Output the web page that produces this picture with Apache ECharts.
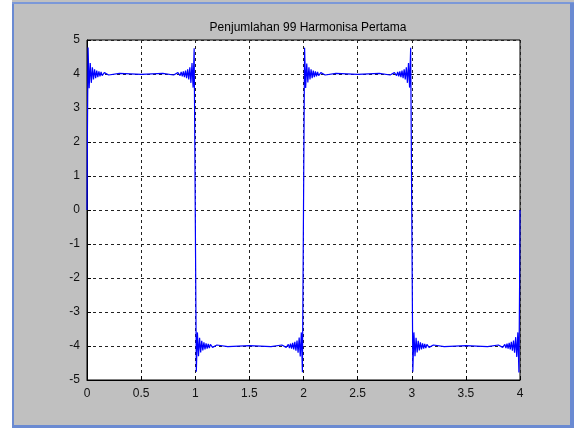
<!DOCTYPE html>
<html>
<head>
<meta charset="utf-8">
<script src="https://cdn.jsdelivr.net/npm/echarts@6/dist/echarts.min.js"></script>
<style>
  html, body { margin: 0; padding: 0; background: #fff; }
  #chart { width: 577px; height: 428px; }
</style>
</head>
<body>
<div id="chart"></div>
<script>
// tick labels
const xTicks = ['0', '0.5', '1', '1.5', '2', '2.5', '3', '3.5', '4']
const yTicks = ['-5', '-4', '-3', '-2', '-1', '0', '1', '2', '3', '4', '5']

// points, one half-period at a time [x, y]
const seg1 = [
    [0, 0], [0.004, 2.3], [0.01, 4.78], [0.02, 3.58], [0.03, 4.32], [0.04, 3.74], [0.05, 4.2],
    [0.06, 3.84], [0.07, 4.14], [0.08, 3.88], [0.09, 4.1], [0.1, 3.91], [0.11, 4.08],
    [0.12, 3.93], [0.13, 4.06], [0.14, 3.95], [0.16, 4.04], [0.2, 3.97], [0.3, 4.02],
    [0.5, 3.99], [0.7, 4.02], [0.8, 3.97], [0.84, 4.04], [0.86, 3.95], [0.87, 4.06],
    [0.88, 3.93], [0.89, 4.08], [0.9, 3.91], [0.91, 4.1], [0.92, 3.88], [0.93, 4.14],
    [0.94, 3.84], [0.95, 4.2], [0.96, 3.74], [0.97, 4.32], [0.98, 3.6], [0.99, 4.76], [1, 0]
]
const seg2 = [
    [1.01, -4.76], [1.02, -3.6], [1.03, -4.3], [1.04, -3.76], [1.05, -4.19], [1.06, -3.85],
    [1.07, -4.13], [1.08, -3.89], [1.09, -4.1], [1.1, -3.92], [1.11, -4.08], [1.12, -3.94],
    [1.13, -4.06], [1.14, -3.95], [1.16, -4.04], [1.2, -3.97], [1.3, -4.02], [1.5, -3.99],
    [1.7, -4.02], [1.8, -3.97], [1.84, -4.04], [1.86, -3.95], [1.87, -4.06], [1.88, -3.93],
    [1.89, -4.08], [1.9, -3.91], [1.91, -4.1], [1.92, -3.88], [1.93, -4.14], [1.94, -3.84],
    [1.95, -4.2], [1.96, -3.75], [1.97, -4.31], [1.98, -3.6], [1.99, -4.77], [2, 0]
]
const seg3 = [
    [2.01, 4.77], [2.02, 3.59], [2.03, 4.31], [2.04, 3.75], [2.05, 4.2], [2.06, 3.84],
    [2.07, 4.14], [2.08, 3.88], [2.09, 4.1], [2.1, 3.91], [2.11, 4.08], [2.12, 3.93],
    [2.13, 4.06], [2.14, 3.95], [2.16, 4.04], [2.2, 3.97], [2.3, 4.02], [2.5, 3.99],
    [2.7, 4.02], [2.8, 3.97], [2.84, 4.04], [2.86, 3.95], [2.87, 4.06], [2.88, 3.93],
    [2.89, 4.08], [2.9, 3.91], [2.91, 4.1], [2.92, 3.88], [2.93, 4.14], [2.94, 3.84],
    [2.95, 4.2], [2.96, 3.74], [2.97, 4.32], [2.98, 3.6], [2.99, 4.77], [3, 0]
]
const seg4 = [
    [3.01, -4.76], [3.02, -3.6], [3.03, -4.3], [3.04, -3.76], [3.05, -4.19], [3.06, -3.85],
    [3.07, -4.13], [3.08, -3.89], [3.09, -4.1], [3.1, -3.92], [3.11, -4.08], [3.12, -3.94],
    [3.13, -4.06], [3.14, -3.95], [3.16, -4.04], [3.2, -3.97], [3.3, -4.02], [3.5, -3.99],
    [3.7, -4.02], [3.8, -3.97], [3.84, -4.04], [3.86, -3.95], [3.87, -4.06], [3.88, -3.93],
    [3.89, -4.08], [3.9, -3.91], [3.91, -4.1], [3.92, -3.88], [3.93, -4.14], [3.94, -3.84],
    [3.95, -4.2], [3.96, -3.74], [3.97, -4.32], [3.98, -3.6], [3.99, -4.78], [3.996, -2.3], [4, 0]
]

const chart = echarts.init(document.getElementById('chart'))
const axisFont = { color: '#111', fontSize: 12, fontFamily: 'Liberation Sans, Arial, sans-serif' }
const dotted = { show: true, lineStyle: { color: '#222', type: [3, 3], width: 1 } }

chart.setOption({
    backgroundColor: '#c0c0c0',
    animation: false,
    title: {
        text: 'Penjumlahan 99 Harmonisa Pertama',
        left: 303,
        textAlign: 'center',
        top: 17,
        textStyle: { color: '#000', fontSize: 12, fontWeight: 'normal', fontFamily: 'Liberation Sans, Arial, sans-serif' }
    },
    grid: {
        left: 87,
        right: 57,
        top: 40,
        bottom: 48,
        show: true,
        backgroundColor: '#fff',
        borderColor: '#000',
        borderWidth: 1
    },
    xAxis: {
        type: 'value',
        min: 0,
        max: 4,
        interval: 0.5,
        axisLine: { onZero: false, lineStyle: { color: '#000' } },
        axisTick: { inside: true, length: 4, lineStyle: { color: '#000' } },
        axisLabel: Object.assign({ margin: 8, formatter: (v) => xTicks[Math.round(v * 2)] }, axisFont),
        splitLine: dotted
    },
    yAxis: {
        type: 'value',
        min: -5,
        max: 5,
        interval: 1,
        axisLine: { show: true, onZero: false, lineStyle: { color: '#000' } },
        axisTick: { show: true, inside: true, length: 4, lineStyle: { color: '#000' } },
        axisLabel: Object.assign({ margin: 7, formatter: (v) => yTicks[Math.round(v) + 5] }, axisFont),
        splitLine: dotted
    },
    graphic: [
        { type: 'rect', shape: { x: 0, y: 0, width: 12, height: 428 }, style: { fill: '#fff' } },
        { type: 'rect', shape: { x: 12, y: 3, width: 2, height: 425 }, style: { fill: '#6a8ad2' } },
        { type: 'rect', shape: { x: 12, y: 2, width: 562, height: 2 }, style: { fill: '#7b98d8' } },
        { type: 'rect', shape: { x: 570, y: 3, width: 4, height: 425 }, style: { fill: '#6a8ad2' } },
        { type: 'rect', shape: { x: 574, y: 0, width: 3, height: 428 }, style: { fill: '#fff' } },
        { type: 'rect', shape: { x: 12, y: 425, width: 562, height: 3 }, style: { fill: '#6a8ad2' } }
    ],
    series: [
        {
            type: 'line',
            data: [].concat(seg1, seg2, seg3, seg4),
            showSymbol: false,
            lineStyle: { color: '#0000ff', width: 1.2 },
            z: 3
        }
    ]
})
</script>
</body>
</html>
